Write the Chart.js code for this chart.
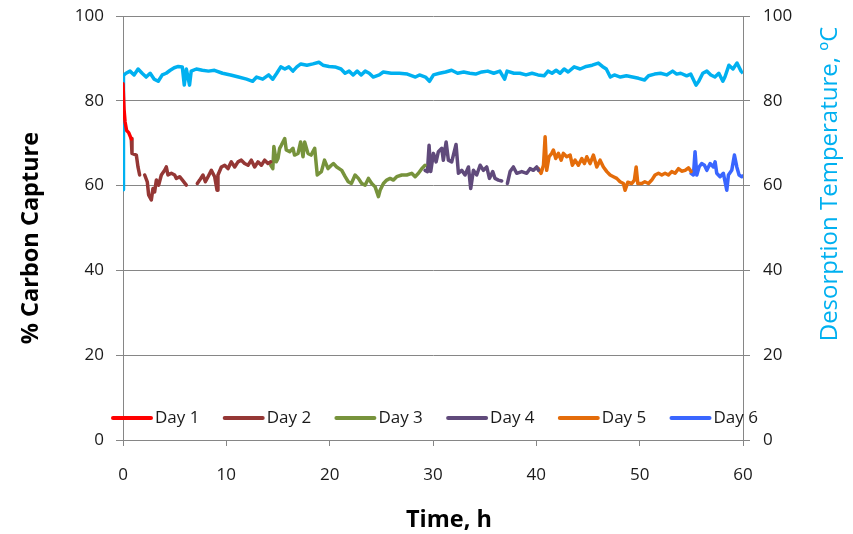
<!DOCTYPE html>
<html>
<head>
<meta charset="utf-8">
<script src="https://cdn.jsdelivr.net/npm/chart.js@4.4.1/dist/chart.umd.min.js"></script>
<style>
    body { margin: 0; background: #fff; }
    #wrap { width: 853px; height: 534px; position: relative; }
</style>
</head>
<body>
<div id="wrap"><canvas id="graph"></canvas></div>
<script>
// tick values for the axes
const xTickValues = [0, 10, 20, 30, 40, 50, 60];
const yTickValues = [0, 20, 40, 60, 80, 100];

// % carbon capture, one pair of arrays per day (null = gap in the record)
const day1Time = [0, 0.1, 0.2, 0.35, 0.55, 0.8];
const day1Capture = [84, 78, 75, 73, 72.5, 71];

const day2Time = [0.8, 0.87, 1.29, 1.45, 1.61, 1.85, 2.1, 2.35, 2.48, 2.74, 2.9, 3.06, 3.23, 3.45, 3.71, 4.03, 4.19, 4.35,
    4.68, 5.0, 5.16, 5.48, 5.81, 6.13, 6.6, 7.19, 7.42, 7.74, 7.97, 8.23, 8.55, 8.87, 9.1, 9.19, 9.52, 9.84, 10.16, 10.48,
    10.81, 11.13, 11.45, 11.77, 12.1, 12.42, 12.74, 13.06, 13.39, 13.71, 14.03, 14.3];
const day2Capture = [71.1, 67.6, 67.2, 64.4, 62.5, null, 62.5, 60.9, 57.8, 56.6, 59.3, 58.5, 61.3, 60.1, 62.5, 63.6, 64.4, 62.5,
    62.9, 62.5, 61.7, 62.1, 61.1, 60.1, null, 60.5, 61.3, 62.5, 60.9, 62.1, 63.6, 62.1, 58.9, 62.5, 64.4, 64.8, 64.0, 65.6,
    64.4, 65.6, 66.0, 65.2, 64.8, 66.0, 64.4, 65.6, 64.8, 66.0, 65.2, 65.6];

const day3Time = [14.3, 14.5, 14.6, 14.84, 15.0, 15.16, 15.32, 15.65, 15.8, 16.13, 16.45, 16.6, 16.94, 17.19, 17.42, 17.58,
    17.9, 18.2, 18.55, 18.8, 19.2, 19.5, 19.84, 20.16, 20.36, 20.68, 21.17, 21.5, 21.8, 22.1, 22.46, 22.78, 23.1, 23.43,
    23.75, 24.07, 24.4, 24.72, 24.88, 25.2, 25.52, 25.85, 26.17, 26.49, 26.98, 27.46, 27.94, 28.27, 28.59, 28.91, 29.23];
const day3Capture = [64.8, 64.0, 69.2, 65.6, 66.4, 68.8, 69.5, 71.1, 68.4, 68.0, 68.8, 67.2, 67.6, 70.3, 66.8, 70.3,
    67.6, 67.2, 68.8, 62.5, 63.3, 66.0, 64.0, 64.8, 65.2, 64.4, 63.6, 62.1, 60.9, 60.5, 62.5, 61.7, 60.5, 60.1,
    61.7, 60.5, 59.7, 57.4, 58.9, 60.5, 61.3, 61.7, 61.3, 62.1, 62.5, 62.5, 62.9, 62.1, 62.9, 64.0, 64.8];

const day4Time = [29.23, 29.46, 29.62, 29.78, 30.04, 30.3, 30.52, 30.85, 31.0, 31.27, 31.49, 31.81, 32.23, 32.46, 32.78,
    33.1, 33.43, 33.65, 33.91, 34.23, 34.56, 34.88, 35.2, 35.46, 35.78, 36.0, 36.33, 36.65, 36.9, 37.2, 37.46, 37.78,
    38.1, 38.59, 39.07, 39.39, 39.72, 40.04, 40.2];
const day4Capture = [63.6, 63.3, 69.5, 63.3, 67.6, 65.6, 68.0, 68.8, 66.0, 70.3, 66.0, 65.6, 69.7, 62.9, 63.6,
    62.5, 64.4, 59.3, 63.6, 62.5, 64.8, 63.6, 64.4, 61.7, 63.3, 61.7, 61.3, 61.1, null, 60.5, 63.3, 64.4,
    62.9, 63.3, 62.9, 64.0, 63.6, 64.4, 63.6];

const day5Time = [40.2, 40.46, 40.69, 40.85, 41.0, 41.23, 41.49, 41.65, 41.88, 42.14, 42.4, 42.62, 42.94, 43.27, 43.49,
    43.75, 44.07, 44.4, 44.65, 44.88, 45.2, 45.52, 45.85, 46.17, 46.49, 46.82, 47.14, 47.46, 47.78, 48.1, 48.43, 48.59,
    48.85, 49.24, 49.49, 49.66, 49.82, 50.2, 50.5, 50.85, 51.17, 51.49, 51.82, 52.14, 52.46, 52.78, 53.1, 53.43, 53.75,
    54.07, 54.4, 54.72, 54.98];
const day5Capture = [64.0, 62.9, 64.8, 71.5, 63.6, 66.8, 67.6, 68.4, 66.4, 67.6, 66.0, 67.6, 66.8, 67.2, 64.8,
    66.0, 64.8, 66.4, 65.2, 66.8, 65.2, 67.2, 64.4, 66.0, 64.4, 63.3, 62.5, 62.1, 61.7, 60.9, 60.5, 58.9,
    60.8, 60.5, 61.3, 64.4, 60.5, 60.5, 60.9, 60.5, 61.3, 62.5, 62.9, 62.5, 62.9, 62.5, 63.3, 62.9, 64.0,
    63.4, 63.6, 64.2, 63.3];

const day6Time = [54.98, 55.2, 55.36, 55.53, 55.75, 56.0, 56.27, 56.5, 56.82, 57.14, 57.3, 57.46, 57.78, 58.1, 58.43,
    58.59, 58.91, 59.17, 59.4, 59.62, 59.88, 60];
const day6Capture = [62.9, 62.5, 68.0, 62.5, 64.4, 65.2, 64.8, 63.6, 65.2, 64.4, 65.6, 62.9, 62.1, 62.9, 58.9,
    62.5, 63.6, 67.2, 64.4, 62.5, 62.1, 62.3];

// desorption temperature, right axis
const tempTime = [0, 0.03, 0.06, 0.29, 0.68, 1.07, 1.46, 1.85, 2.24, 2.63, 3.02, 3.41, 3.8, 4.18, 4.57, 4.96, 5.35, 5.74,
    5.93, 6.13, 6.44, 6.6, 7.1, 7.68, 8.27, 8.85, 9.63, 10.41, 11.18, 11.96, 12.55, 12.93, 13.52, 14.1, 14.49, 14.88,
    15.27, 15.66, 16.05, 16.44, 16.82, 17.21, 17.8, 18.38, 18.96, 19.35, 19.94, 20.52, 21.1, 21.49, 21.88, 22.27, 22.66,
    23.05, 23.44, 23.83, 24.21, 24.8, 25.19, 25.96, 26.74, 27.52, 28.3, 28.69, 29.27, 29.66, 30.05, 30.63, 31.22, 31.8,
    32.38, 32.97, 33.55, 34.13, 34.72, 35.3, 35.88, 36.47, 36.93, 37.17, 37.83, 38.41, 39.0, 39.58, 40.16, 40.75, 41.13,
    41.52, 41.91, 42.3, 42.69, 43.08, 43.66, 44.24, 44.83, 45.41, 46.0, 46.39, 46.77, 47.16, 47.55, 48.13, 48.72, 49.3,
    49.89, 50.47, 50.86, 51.44, 52.02, 52.61, 53.19, 53.58, 53.97, 54.55, 54.94, 55.45, 55.72, 56.11, 56.5, 56.89,
    57.28, 57.66, 58.05, 58.25, 58.64, 59.03, 59.42, 59.81, 60];
const tempValue = [59, 73, 86, 86.5, 87.0, 86.1, 87.5, 86.5, 85.6, 86.5, 85.1, 84.6, 86.1, 86.5, 87.2, 87.8, 88.1, 88.0,
    83.7, 87.5, 83.7, 87.0, 87.5, 87.2, 87.0, 87.2, 86.5, 86.1, 85.6, 85.1, 84.6, 85.6, 85.1, 86.1, 85.1, 86.5,
    88.0, 87.5, 88.0, 87.0, 88.0, 88.7, 88.4, 88.7, 89.1, 88.4, 88.1, 88.0, 87.5, 86.5, 87.0, 86.1, 87.0,
    86.1, 87.0, 86.5, 85.6, 86.1, 86.8, 86.5, 86.5, 86.3, 85.6, 86.1, 85.6, 84.6, 86.1, 86.5, 86.8, 87.2,
    86.5, 86.8, 86.5, 86.3, 86.8, 87.0, 86.5, 87.0, 85.1, 87.0, 86.5, 86.5, 86.1, 86.5, 86.1, 85.9, 87.0,
    86.5, 87.2, 86.5, 87.5, 86.8, 88.0, 87.5, 88.1, 88.4, 88.9, 88.1, 87.5, 85.6, 86.1, 85.6, 85.9, 85.6,
    85.3, 84.9, 85.9, 86.3, 86.5, 86.1, 87.0, 86.3, 86.5, 85.9, 86.3, 83.7, 84.6, 86.5, 87.0, 86.1,
    85.6, 86.5, 84.6, 85.6, 88.4, 87.5, 88.9, 87.0, 86.5];

function points(xs, ys) {
    return xs.map((x, i) => ({ x: x, y: ys[i] }));
}

function daySet(label, xs, ys, color) {
    return {
        label: label,
        data: points(xs, ys),
        borderColor: color,
        backgroundColor: color,
        borderWidth: 3.5,
        pointRadius: 0,
        tension: 0,
        spanGaps: false,
        borderJoinStyle: 'round',
        borderCapStyle: 'round',
        yAxisID: 'y'
    };
}

const FONT = '"Open Sans", "Noto Sans", sans-serif';

// legend drawn inside the plot, along the bottom
const insideLegend = {
    id: 'insideLegend',
    afterDatasetsDraw(chart) {
        const ctx = chart.ctx;
        let x = 111;
        const y = 418;
        ctx.save();
        ctx.font = '17px ' + FONT;
        ctx.textBaseline = 'alphabetic';
        ctx.textAlign = 'left';
        chart.data.datasets.forEach(ds => {
            if (ds.yAxisID !== 'y') return;
            ctx.strokeStyle = ds.borderColor;
            ctx.lineWidth = 4;
            ctx.lineCap = 'round';
            ctx.beginPath();
            ctx.moveTo(x + 2, y);
            ctx.lineTo(x + 40, y);
            ctx.stroke();
            ctx.fillStyle = '#1a1a1a';
            ctx.fillText(ds.label, x + 44, y + 5);
            x += 111.7;
        });
        ctx.restore();
    }
};

// axis titles (the right one reads bottom to top, as in the original)
const axisTitles = {
    id: 'axisTitles',
    afterDraw(chart) {
        const ctx = chart.ctx;
        ctx.save();
        ctx.textAlign = 'center';
        ctx.textBaseline = 'middle';
        ctx.fillStyle = '#000';
        ctx.font = 'bold 23.5px ' + FONT;
        ctx.fillText('Time, h', 449, 520);

        ctx.save();
        ctx.translate(31, 238);
        ctx.rotate(-Math.PI / 2);
        ctx.fillText('% Carbon Capture', 0, 0);
        ctx.restore();

        ctx.save();
        ctx.translate(830, 184);
        ctx.rotate(-Math.PI / 2);
        ctx.fillStyle = '#00B0F0';
        ctx.font = '24px ' + FONT;
        ctx.fillText('Desorption Temperature, \u00BAC', 0, 0);
        ctx.restore();
        ctx.restore();
    }
};

// fixed axis sizes so the plot area sits where the original has it
function fitVertical(width) {
    return s => {
        s.width = width;
        s.paddingTop = 0;
        s.paddingBottom = 0;
    };
}

let myChart;

function buildChart() {
    const ctx = document.getElementById('graph').getContext('2d');
    const tickFont = { family: FONT, size: 17 };
    const gridColor = '#868686';

    myChart = new Chart(ctx, {
        type: 'line',
        data: {
            datasets: [
                daySet('Day 1', day1Time, day1Capture, '#FF0000'),
                daySet('Day 2', day2Time, day2Capture, '#953735'),
                daySet('Day 3', day3Time, day3Capture, '#77933C'),
                daySet('Day 4', day4Time, day4Capture, '#604A7B'),
                daySet('Day 5', day5Time, day5Capture, '#E46C0A'),
                daySet('Day 6', day6Time, day6Capture, '#3A66FF'),
                {
                    label: 'Desorption Temperature',
                    data: points(tempTime, tempValue),
                    borderColor: '#00B0F0',
                    backgroundColor: '#00B0F0',
                    borderWidth: 3.5,
                    pointRadius: 0,
                    tension: 0,
                    borderJoinStyle: 'round',
                    yAxisID: 'y2'
                }
            ]
        },
        options: {
            responsive: true,
            maintainAspectRatio: false,
            animation: false,
            layout: { padding: { top: 16, left: 0, right: 0, bottom: 0 } },
            plugins: {
                legend: { display: false },
                tooltip: { enabled: false }
            },
            scales: {
                x: {
                    type: 'linear',
                    min: 0,
                    max: 60,
                    afterBuildTicks: s => { s.ticks = xTickValues.map(v => ({ value: v })); },
                    afterFit: s => { s.height = 94; },
                    grid: { drawOnChartArea: false, color: gridColor, tickLength: 6 },
                    border: { color: gridColor },
                    ticks: { font: tickFont, color: '#1a1a1a', padding: 19, maxRotation: 0 }
                },
                y: {
                    position: 'left',
                    min: 0,
                    max: 100,
                    afterBuildTicks: s => { s.ticks = yTickValues.map(v => ({ value: v })); },
                    afterFit: fitVertical(123),
                    grid: { color: gridColor, tickLength: 7 },
                    border: { color: gridColor },
                    ticks: { font: tickFont, color: '#1a1a1a', padding: 12 }
                },
                y2: {
                    position: 'right',
                    min: 0,
                    max: 100,
                    afterBuildTicks: s => { s.ticks = yTickValues.map(v => ({ value: v })); },
                    afterFit: fitVertical(110),
                    grid: { drawOnChartArea: false, color: gridColor, tickLength: 7 },
                    border: { color: gridColor },
                    ticks: { font: tickFont, color: '#1a1a1a', padding: 13 }
                }
            }
        },
        plugins: [insideLegend, axisTitles]
    });
}

buildChart();
</script>
</body>
</html>
